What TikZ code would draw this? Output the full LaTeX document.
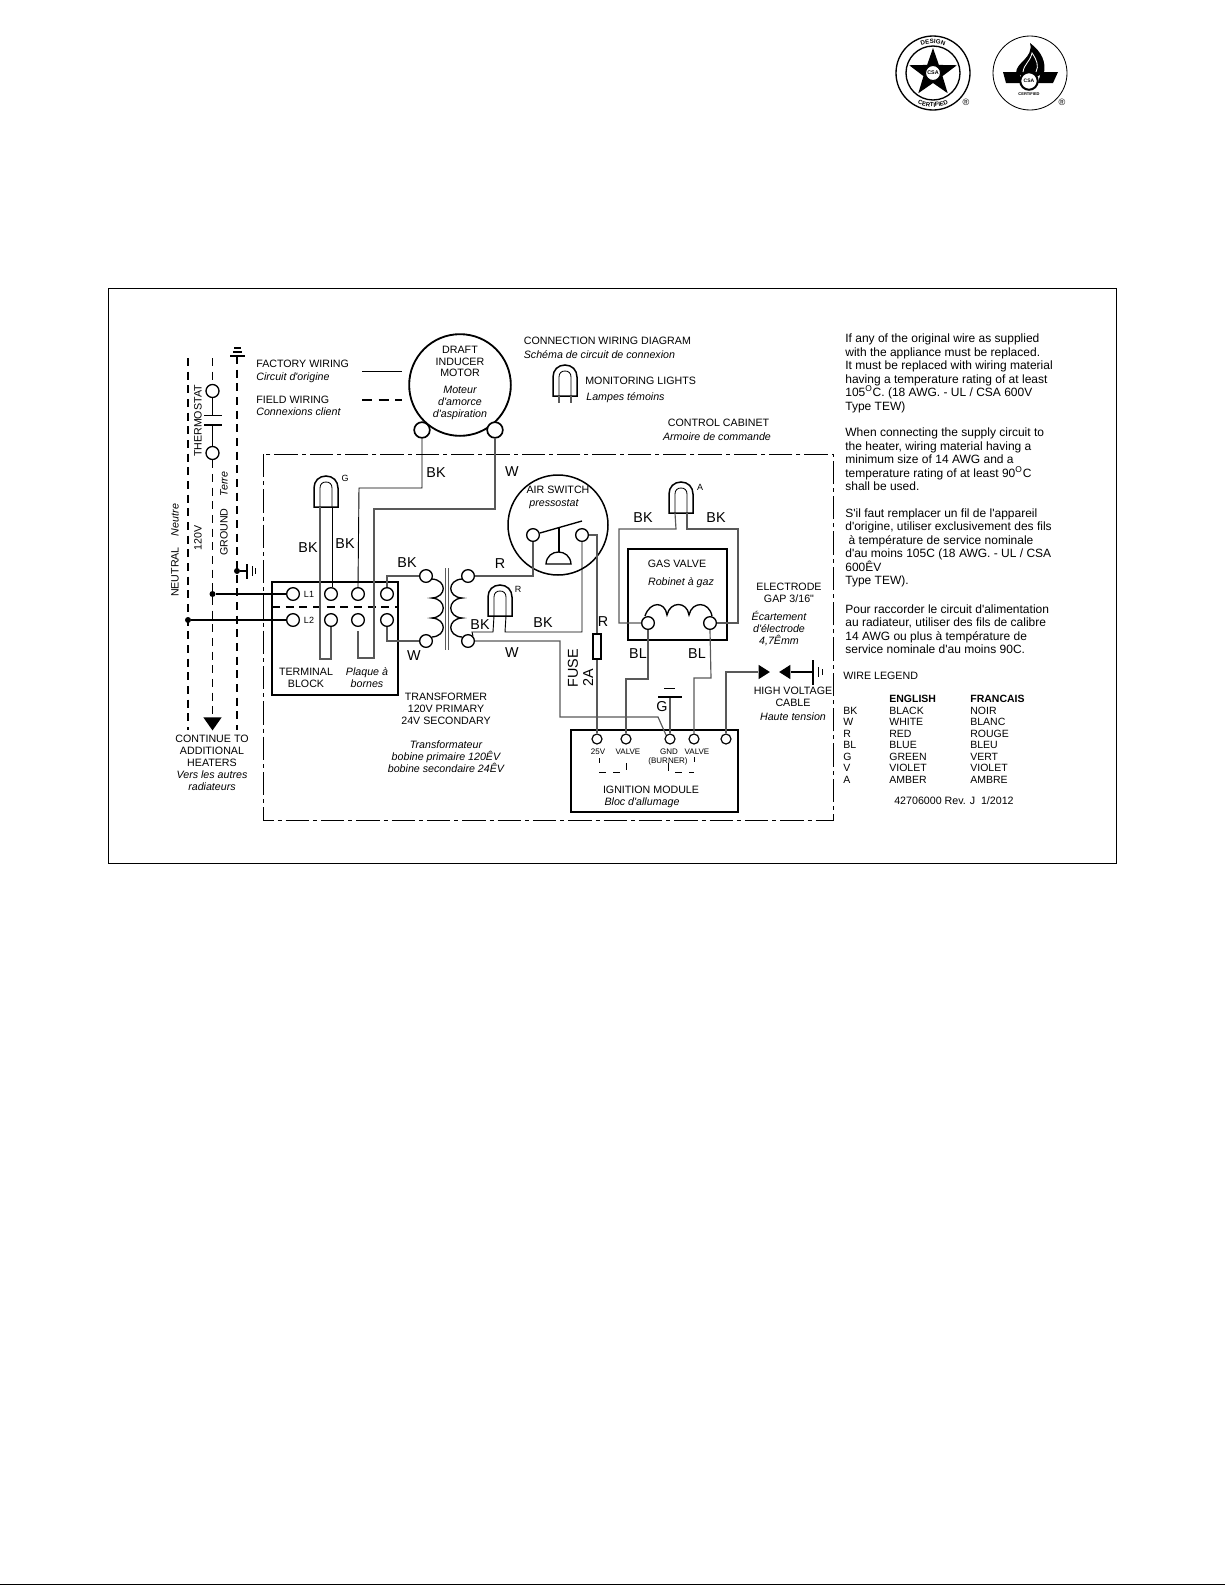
\documentclass[tikz,border=0pt]{standalone}
\usepackage{fontspec}
\setmainfont{Liberation Sans}[Ligatures=TeXOff]
\usetikzlibrary{shapes.geometric,decorations.text}

\definecolor{wiregray}{gray}{0.35}

\tikzset{
  txt/.style={inner sep=0pt, align=center, font=\fontsize{6.4}{7.1}\selectfont},
  ital/.style={inner sep=0pt, align=center, font=\fontsize{6.4}{7.1}\selectfont\itshape},
  para/.style={inner sep=0pt, anchor=west, align=left, font=\fontsize{7.2}{8.1}\selectfont},
  leg/.style={inner sep=0pt, anchor=west, font=\fontsize{6.3}{7}\selectfont},
  wlab/.style={inner sep=0pt, font=\fontsize{8.6}{9}\selectfont},
  modlab/.style={inner sep=0pt, font=\fontsize{4.8}{5}\selectfont},
  smlab/.style={inner sep=0pt, font=\fontsize{5.4}{6}\selectfont},
  term/.style={circle, draw, line width=0.8pt, fill=white, minimum size=7.6pt, inner sep=0pt},
  modterm/.style={circle, draw, line width=0.7pt, fill=white, minimum size=6pt, inner sep=0pt},
  dot/.style={circle, fill, minimum size=3.6pt, inner sep=0pt},
  box/.style={draw, line width=0.9pt, inner sep=0pt},
  wire/.style={draw=wiregray, line width=0.7pt},
  bkwire/.style={draw=black, line width=0.55pt},
  feed/.style={draw=black, line width=1.1pt},
  field/.style={draw=black, line width=0.8pt, dash pattern=on 4.8pt off 3.4pt},
  lamp/.style={draw=black, line width=0.9pt},
  coil/.style={draw=black, line width=0.8pt}
}

\begin{document}
\begin{tikzpicture}[x=0.6pt, y=-0.6pt]
  \useasboundingbox (0,0) rectangle (1225,1585);

  % logos
  \node[circle, draw, line width=0.8pt, minimum size=44.4pt, inner sep=0pt] (logoa) at (933,73) {};
  \node[circle, draw, line width=0.8pt, minimum size=32.4pt, inner sep=0pt] (logab) at (933,73) {};
  \node[star, star points=5, star point ratio=2.5, fill, minimum size=30pt, inner sep=0pt] (logostar) at (933,73) {};
  \node[circle, draw, fill=white, line width=0.6pt, minimum size=9pt, inner sep=0pt, font=\fontsize{3.2}{3}\selectfont\bfseries] (logocsa) at (933,73) {CSA};
  \path[shift={(933,73)}, decorate, decoration={text along path, text align=center,
    text={|\fontsize{3.7}{5}\selectfont\bfseries|DESIGN}}] (130:17.6pt) arc (130:50:17.6pt);
  \path[shift={(933,73)}, decorate, decoration={text along path, text align=center,
    text={|\fontsize{3.6}{5}\selectfont\bfseries|CERTIFIED}}] (212:20.4pt) arc (212:328:20.4pt);
  \node[inner sep=0pt, font=\fontsize{5.5}{6}\selectfont] (regb) at (966,102) {®};

  \node[circle, draw, line width=0.5pt, minimum size=44.4pt, inner sep=0pt] (logoc) at (1030,73) {};
  \fill (1003,72) -- (1019,72) -- (1022,83) -- (1006,83) -- cycle;
  \fill (1058,72) -- (1041,72) -- (1038,83) -- (1053,83) -- cycle;
  \fill (1016,73) .. controls (1016,62) and (1034,58) .. (1030,43)
        .. controls (1042,52) and (1046,62) .. (1044,73) -- (1030,80) -- cycle;
  \draw[white, line width=0.5pt] (1023,72) .. controls (1024,64) and (1030,62) .. (1032,53)
        .. controls (1037,60) and (1039,66) .. (1036,72);
  \node[circle, draw, fill=white, line width=1.2pt, minimum size=10.5pt, inner sep=0pt, font=\fontsize{3}{3}\selectfont\bfseries] (logod) at (1029,81) {CSA};
  \node[inner sep=0pt, font=\fontsize{2.4}{3}\selectfont\bfseries] (certb) at (1029,94) {CERTIFIED};
  \node[inner sep=0pt, font=\fontsize{5.5}{6}\selectfont] (regd) at (1062,102) {®};

  % frame and cabinet
  \draw[line width=0.55pt] (108,288) rectangle (1116,863);
  \draw[line width=0.5pt, dash pattern=on 14pt off 2.4pt on 2.4pt off 2.4pt] (263,454) rectangle (833,820);
  \draw[line width=1.2pt] (0,1584.6) -- (1225,1584.6);

  % supply lines
  \coordinate (ntop) at (188,358);
  \coordinate (nend) at (188,730);
  \coordinate (gtop) at (212.5,358);
  \coordinate (gndend) at (237,730);
  \coordinate (gndtop) at (237,356);
  \node[term, minimum size=7.8pt] (tha) at (212.5,391) {};
  \node[term, minimum size=7.8pt] (thb) at (212.5,453) {};
  \coordinate (capa) at (212.5,415);
  \coordinate (capb) at (212.5,425);
  \node[fill, isosceles triangle, isosceles triangle apex angle=70, shape border rotate=-90, minimum height=7.8pt, minimum width=7.8pt, inner sep=0pt, anchor=apex] (contarrow) at (212.5,731) {};
  \draw[field] (ntop) -- (nend);
  \draw[field] (gtop) -- (tha);
  \draw[field] (thb) -- (contarrow.north);
  \draw[field] (gndtop) -- (gndend);
  \draw[line width=0.7pt] (tha) -- (capa) (thb) -- (capb);
  \draw[line width=0.5pt] (204,415) -- (222,415);
  \draw[line width=0.9pt] (204,425) -- (222,425);
  \draw[line width=0.9pt] (230,356) -- (245,356);
  \draw[line width=0.8pt] (233,352) -- (242,352);
  \draw[line width=0.8pt] (234,348) -- (241,348);

  \node[dot] (gnddot) at (237,571) {};
  \coordinate (gndbar) at (247,571);
  \draw[line width=0.7pt] (gnddot) -- (gndbar);
  \draw[line width=0.7pt] (247,564) -- (247,579);
  \draw[line width=0.5pt] (252,566) -- (252,576);
  \draw[line width=0.5pt] (255,568) -- (255,574);

  % lamps
  \foreach \n/\lx/\ly in {g/326/507, r/500/616, a/681/513, key/565/396}{
    \draw[lamp] (\lx-12,\ly) -- (\lx-12,\ly-19) .. controls (\lx-12,\ly-26) and (\lx-7,\ly-31) .. (\lx,\ly-31)
       .. controls (\lx+7,\ly-31) and (\lx+12,\ly-26) .. (\lx+12,\ly-19) -- (\lx+12,\ly) -- cycle;
    \draw[line width=0.5pt] (\lx-6,\ly) -- (\lx-6,\ly-19) .. controls (\lx-6,\ly-23) and (\lx-3.5,\ly-25) .. (\lx,\ly-25)
       .. controls (\lx+3.5,\ly-25) and (\lx+6,\ly-23) .. (\lx+6,\ly-19) -- (\lx+6,\ly);
    \coordinate (led\n l) at (\lx-6,\ly);
    \coordinate (led\n r) at (\lx+6,\ly);
  }
  \coordinate (keyl) at (559,403);
  \coordinate (keyr) at (571,403);
  \draw[wire] (ledkeyl) -- (keyl) (ledkeyr) -- (keyr);

  % motor
  \node[circle, draw, line width=1.1pt, minimum size=61pt, inner sep=0pt] (motor) at (460,385) {};
  \node[term, line width=1pt, minimum size=9.4pt] (mota) at (422,430) {};
  \node[term, line width=1pt, minimum size=9.4pt] (motb) at (495,430) {};

  % terminal block
  \node[box, line width=1.5pt, minimum width=75.6pt, minimum height=67.8pt] (block) at (335,638.5) {};
  \coordinate (blockl) at (272,607);
  \coordinate (blockr) at (398,607);
  \draw[field, line width=1pt] (blockl) -- (blockr);
  \foreach \n/\lx in {l/293, a/331, b/358, c/387}{
    \node[term] (tb\n1) at (\lx,594) {};
    \node[term] (tb\n2) at (\lx,620) {};
  }
  \node[dot] (doth) at (212.5,594) {};
  \node[dot] (dotn) at (188,620) {};
  \draw[feed] (doth) -- (tbl1);
  \draw[feed] (dotn) -- (tbl2);

  % transformer
  \node[term] (pria) at (426,576) {};
  \node[term] (prib) at (426,641) {};
  \node[term] (seca) at (468,576) {};
  \node[term] (secb) at (468,641) {};
  \draw[coil] (432,579) .. controls (447,580) and (447,597) .. (432,598)
     .. controls (447,599) and (447,617) .. (432,618)
     .. controls (447,619) and (447,636) .. (432,637);
  \draw[coil] (462,579) .. controls (447,580) and (447,597) .. (462,598)
     .. controls (447,599) and (447,617) .. (462,618)
     .. controls (447,619) and (447,636) .. (462,637);
  \draw[wiregray, line width=0.8pt] (445.5,568) -- (445.5,650) (448.5,568) -- (448.5,650);

  % air switch
  \node[circle, draw, line width=0.9pt, minimum size=60pt, inner sep=0pt] (airsw) at (558,525) {};
  \node[term] (swa) at (533,535) {};
  \node[term] (swb) at (582,535) {};
  \coordinate (armend) at (582,521);
  \coordinate (armmid) at (559,528);
  \coordinate (domec) at (559,552);
  \draw[line width=0.8pt] (swa) -- (armend);
  \draw[line width=0.7pt] (armmid) -- (domec);
  \draw[line width=0.8pt] (546,564) .. controls (547,548) and (570,548) .. (571,564) -- cycle;

  % fuse
  \node[box, minimum width=4.8pt, minimum height=15pt] (fuse) at (597,646.5) {};

  % gas valve
  \node[box, minimum width=59.4pt, minimum height=54.6pt] (gasv) at (677.5,594.5) {};
  \node[term] (gva) at (648,623) {};
  \node[term] (gvb) at (710,623) {};
  \draw[coil] (645,616) .. controls (650,601) and (665,601) .. (667,615)
     .. controls (670,601) and (687,601) .. (689,615)
     .. controls (692,601) and (709,601) .. (712,616);

  % ignition module
  \node[box, minimum width=100.2pt, minimum height=49.2pt] (ignmod) at (654.5,771) {};
  \node[modterm] (moda) at (597,739) {};
  \node[modterm] (modb) at (626,739) {};
  \node[modterm] (modc) at (670,739) {};
  \node[modterm] (modd) at (694,739) {};
  \node[modterm] (mode) at (726,739) {};
  \draw[line width=0.45pt, dash pattern=on 4.2pt off 4.2pt] (599,772) -- (626,772);
  \draw[line width=0.45pt] (599,758) -- (599,763) (626,763) -- (626,770);
  \draw[line width=0.45pt, dash pattern=on 4.2pt off 4.2pt] (675,772) -- (694,772);
  \draw[line width=0.45pt] (668,763) -- (668,771) (694,757) -- (694,762);

  % burner ground
  \coordinate (bgnd) at (670,697);
  \draw[wire] (modc) -- (bgnd);
  \draw[line width=0.7pt] (658,697) -- (682,697);
  \draw[line width=0.5pt] (664,688) -- (675,688);

  % electrode
  \node[fill, isosceles triangle, isosceles triangle apex angle=65, minimum height=6.8pt, minimum width=8.6pt, inner sep=0pt] (gapa) at (762.5,672) {};
  \node[fill, isosceles triangle, isosceles triangle apex angle=65, shape border rotate=180, minimum height=6.8pt, minimum width=8.6pt, inner sep=0pt] (gapb) at (786.5,672) {};
  \coordinate (gapgnd) at (813,672);
  \draw[line width=0.7pt] (gapb) -- (gapgnd);
  \draw[line width=0.7pt] (813,660) -- (813,685);
  \draw[line width=0.5pt] (818,667) -- (818,677);
  \draw[line width=0.5pt] (822,669) -- (822,675);

  % wiring
  \draw[bkwire] (mota.south) |- (359,488) -- (tbb1.north);
  \draw[wire] (motb.south) |- (374,509) -- (374,658) -| (358,631);
  \draw[wire] (ledgl) -- (320,659) -| (tba2.south);
  \draw[bkwire] (ledgr) -- (ledgr |- tba1.north);
  \draw[wire] (tbc1.north) |- (pria.west);
  \draw[wire] (tbc2.south) |- (prib.west);
  \draw[wire] (seca.east) -| (swa.south);
  \draw[bkwire] (ledrl) -- (493,632) -- (472,632) -- (secb.north east);
  \draw[bkwire] (ledrr) -- (505,632) -| (swb.south);
  \draw[wire] (secb.east) -- (560,641) -- (560,717) -- (658,717) -- (modc.north west);
  \draw[wire] (swb.east) -| (fuse.north);
  \draw[wire] (fuse.south) -- (moda.north);
  \draw[wire] (ledal) -- (676,529) -- (619,529) |- (gva.west);
  \draw[wire] (ledar) -- (687,529) -- (738,529) |- (gvb.east);
  \draw[wire] (gva.south) -- (648,679) -| (modb.north);
  \draw[wire] (gvb.south) -- (711,678) -| (modd.north);
  \draw[wire] (mode.north) |- (gapa.west);

  % wiring key
  \coordinate (keya) at (362,371);
  \coordinate (keyb) at (402,371);
  \coordinate (keyc) at (362,400);
  \coordinate (keyd) at (402,400);
  \draw[line width=0.5pt] (keya) -- (keyb);
  \draw[line width=0.8pt, dash pattern=on 6pt off 4pt] (keyc) -- (keyd);

  % labels
  \node[txt, anchor=west] (factory) at (256,364) {FACTORY WIRING};
  \node[ital, anchor=west] (factoryf) at (256,378) {Circuit d'origine};
  \node[txt, anchor=west] (fieldw) at (256,399.5) {FIELD WIRING};
  \node[ital, anchor=west] (fieldf) at (256,412) {Connexions client};
  \node[txt] (drafttxt) at (460,361.5) {DRAFT\\INDUCER\\MOTOR};
  \node[ital] (draftf) at (460,403) {Moteur\\d'amorce\\d'aspiration};
  \node[txt, anchor=west] (conn) at (523.5,341) {CONNECTION WIRING DIAGRAM};
  \node[ital, anchor=west] (connf) at (523.5,355) {Schéma de circuit de connexion};
  \node[txt, anchor=west] (moni) at (585,381) {MONITORING LIGHTS};
  \node[ital, anchor=west] (monif) at (586,398) {Lampes témoins};
  \node[txt] (cabt) at (718.5,423) {CONTROL CABINET};
  \node[ital] (cabf) at (717,437) {Armoire de commande};

  \node[txt, rotate=90] (neut) at (175,572) {NEUTRAL};
  \node[ital, rotate=90] (neutf) at (175,520) {Neutre};
  \node[txt, rotate=90] (volt) at (198,538) {120V};
  \node[txt, rotate=90] (thermo) at (198,421) {THERMOSTAT};
  \node[txt, rotate=90] (grnd) at (224,532) {GROUND};
  \node[ital, rotate=90] (grndf) at (224,484) {Terre};

  \node[txt] (cont) at (212,751) {CONTINUE TO\\ADDITIONAL\\HEATERS};
  \node[ital] (contf) at (212,780.5) {Vers les autres\\radiateurs};
  \node[txt] (tblk) at (306,678) {TERMINAL\\BLOCK};
  \node[ital] (tblkf) at (367,678) {Plaque à\\bornes};
  \node[txt] (trans) at (446,708.5) {TRANSFORMER\\120V PRIMARY\\24V SECONDARY};
  \node[ital] (transf) at (446,757) {Transformateur\\bobine primaire 120ÊV\\bobine secondaire 24ÊV};
  \node[txt] (airt) at (558,490) {AIR SWITCH};
  \node[ital] (airf) at (554,504) {pressostat};
  \node[txt] (gast) at (677,564) {GAS VALVE};
  \node[ital] (gasf) at (681,583) {Robinet à gaz};
  \node[txt] (elect) at (789,592.5) {ELECTRODE\\GAP 3/16"};
  \node[ital] (electf) at (779,628.5) {Écartement\\d'électrode\\4,7Êmm};
  \node[txt] (hvolt) at (793,696.5) {HIGH VOLTAGE\\CABLE};
  \node[ital] (hvoltf) at (793,717) {Haute tension};
  \node[txt] (ignt) at (651,790) {IGNITION MODULE};
  \node[ital] (ignf) at (642,803) {Bloc d'allumage};

  \node[modlab] (m25) at (598,752) {25V};
  \node[modlab] (mva) at (628,752) {VALVE};
  \node[modlab] (mgn) at (669,752) {GND};
  \node[modlab] (mvb) at (697,752) {VALVE};
  \node[modlab] (mbu) at (668,761) {(BURNER)};

  \node[smlab] (labl1) at (309,594) {L1};
  \node[smlab] (labl2) at (309,620) {L2};
  \node[smlab] (labg) at (345,478) {G};
  \node[smlab] (labr) at (518,589) {R};
  \node[smlab] (laba) at (700,487) {A};

  \node[wlab] (wa) at (436,473) {BK};
  \node[wlab] (wb) at (512,472) {W};
  \node[wlab] (wc) at (308,548) {BK};
  \node[wlab] (wd) at (345,544) {BK};
  \node[wlab] (we) at (407,563) {BK};
  \node[wlab] (wf) at (500,564) {R};
  \node[wlab] (wg) at (480,625) {BK};
  \node[wlab] (wh) at (414,656) {W};
  \node[wlab] (wi) at (512,653) {W};
  \node[wlab] (wj) at (543,623) {BK};
  \node[wlab] (wk) at (603,622) {R};
  \node[wlab] (wl) at (643,518) {BK};
  \node[wlab] (wm) at (716,518) {BK};
  \node[wlab] (wn) at (638,654) {BL};
  \node[wlab] (wo) at (697,654) {BL};
  \node[wlab] (wp) at (662,707) {G};
  \node[wlab, rotate=90] (fusea) at (573,668) {FUSE};
  \node[wlab, rotate=90] (fuseb) at (588,678) {2A};

  % notes
  \node[para] (notea) at (845,373.5) {If any of the original wire as supplied\\with the appliance must be replaced.\\It must be replaced with wiring material\\having a temperature rating of at least\\105\textsuperscript{O}C. (18 AWG. - UL / CSA 600V\\Type TEW)};
  \node[para] (noteb) at (845,459.5) {When connecting the supply circuit to\\the heater, wiring material having a\\minimum size of 14 AWG and a\\temperature rating of at least 90\textsuperscript{O}C\\shall be used.};
  \node[para] (notec) at (845,548) {S'il faut remplacer un fil de l'appareil\\d'origine, utiliser exclusivement des fils\\ \ à température de service nominale\\d'au moins 105C (18 AWG. - UL / CSA\\600ÊV\\Type TEW).};
  \node[para] (noted) at (845,629) {Pour raccorder le circuit d'alimentation\\au radiateur, utiliser des fils de calibre\\14 AWG ou plus à température de\\service nominale d'au moins 90C.};

  % legend
  \node[leg, font=\fontsize{6.4}{7}\selectfont] (legt) at (843,676) {WIRE LEGEND};
  \node[leg, font=\fontsize{6.3}{7}\selectfont\bfseries] (legen) at (889,699) {ENGLISH};
  \node[leg, font=\fontsize{6.3}{7}\selectfont\bfseries] (legfr) at (970,699) {FRANCAIS};
  \foreach \ab/\en/\fr/\ry in {BK/BLACK/NOIR/711, W/WHITE/BLANC/722, R/RED/ROUGE/733.5, BL/BLUE/BLEU/745, G/GREEN/VERT/757, V/VIOLET/VIOLET/768, A/AMBER/AMBRE/780}{
    \node[leg] (ab\ab) at (843,\ry) {\ab};
    \node[leg] (en\ab) at (889,\ry) {\en};
    \node[leg] (fr\ab) at (970,\ry) {\fr};
  }
  \node[txt] (revn) at (954,801) {42706000 Rev. J\ \ 1/2012};
\end{tikzpicture}
\end{document}
